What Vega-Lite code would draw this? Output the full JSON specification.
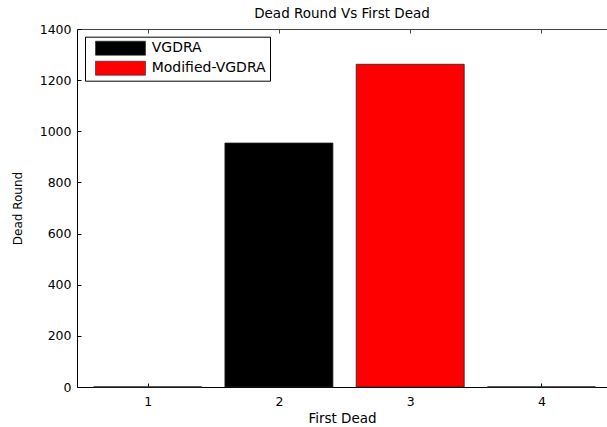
{
  "$schema": "https://vega.github.io/schema/vega-lite/v6.json",
  "width": 530,
  "height": 358,
  "autosize": "none",
  "padding": {"left": 77, "top": 29, "right": 0, "bottom": 40},
  "background": "white",
  "config": {
    "font": "DejaVu Sans",
    "view": {"stroke": null},
    "axis": {"grid": false, "labelColor": "black", "titleColor": "black", "labelFontSize": 12.5, "titleFontSize": 12, "titleFontWeight": "normal", "domainWidth": 1, "tickWidth": 1}
  },
  "title": {"text": "Dead Round Vs First Dead", "fontSize": 13.5, "fontWeight": "normal", "color": "black", "offset": 2.5, "anchor": "middle"},
  "layer": [
    {
      "data": {"values": [{"first_dead": 1, "dead_round": 0}, {"first_dead": 4, "dead_round": 0}]},
      "mark": {"type": "bar", "width": 108, "fill": "white", "stroke": "#222222", "strokeWidth": 1},
      "encoding": {
        "x": {"field": "first_dead", "type": "quantitative", "scale": {"domain": [0.5, 4.461], "nice": false, "zero": false},
          "axis": {"orient": "bottom", "values": [1, 2, 3, 4], "format": "d", "tickSize": -4, "tickColor": "black", "domainColor": "black", "labelPadding": 12, "title": "First Dead", "titleFontSize": 13.5, "titlePadding": 4}},
        "y": {"field": "dead_round", "type": "quantitative", "scale": {"domain": [0, 1400], "nice": false},
          "axis": {"values": [0, 200, 400, 600, 800, 1000, 1200, 1400], "format": "d", "tickSize": -4, "tickColor": "black", "domainColor": "black", "labelPadding": 10, "title": "Dead Round", "titlePadding": 15}}
      }
    },
    {
      "data": {"values": [{"first_dead": 2, "dead_round": 954, "series": "VGDRA"}, {"first_dead": 3, "dead_round": 1262, "series": "Modified-VGDRA"}]},
      "mark": {"type": "bar", "width": 108, "stroke": "#222222", "strokeWidth": 0.8, "opacity": 1},
      "encoding": {
        "x": {"field": "first_dead", "type": "quantitative",
          "axis": {"orient": "top", "values": [1, 2, 3, 4], "labels": false, "tickSize": -4, "tickColor": "#444444", "domainColor": "#444444", "title": null}},
        "y": {"field": "dead_round", "type": "quantitative", "axis": null},
        "color": {"field": "series", "type": "nominal", "title": null,
          "scale": {"domain": ["VGDRA", "Modified-VGDRA"], "range": ["#000000", "#ff0000"]},
          "legend": {"orient": "none", "legendX": 8, "legendY": 7.7, "direction": "vertical", "fillColor": "white", "strokeColor": "black", "padding": 4,
            "symbolType": "M-3.571,-1H3.571V1H-3.571Z", "symbolSize": 196, "symbolStrokeColor": "#222222", "symbolStrokeWidth": 0.6, "symbolOpacity": 1, "symbolOffset": 24,
            "labelFontSize": 14, "labelColor": "black", "labelOffset": 23.7, "rowPadding": 3}}
      }
    }
  ],
  "resolve": {"axis": {"x": "independent", "y": "independent"}}
}
